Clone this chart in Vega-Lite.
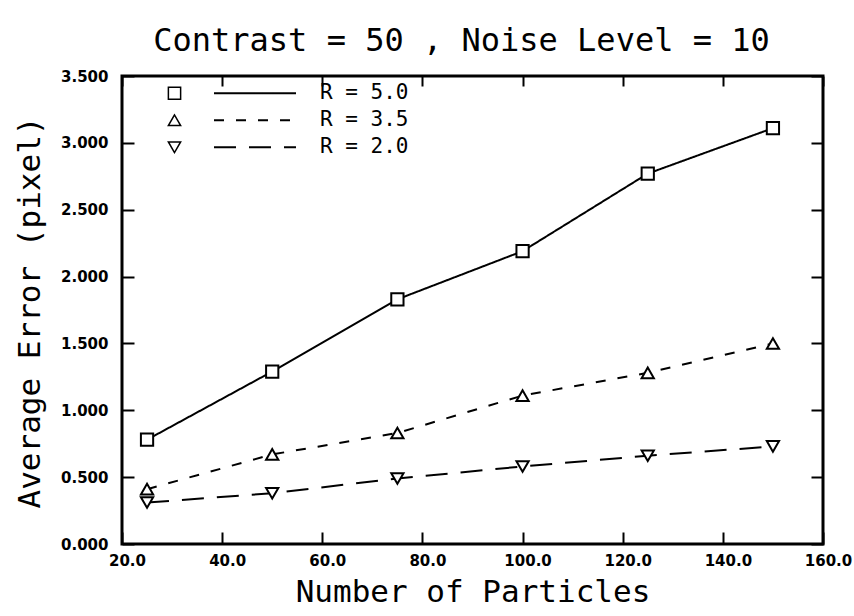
{
  "$schema": "https://vega.github.io/schema/vega-lite/v6.json",
  "width": 701,
  "height": 468,
  "autosize": {"type": "none"},
  "padding": {"left": 122, "top": 76, "right": 31, "bottom": 72},
  "background": "white",
  "title": {
    "text": "Contrast = 50 , Noise Level = 10",
    "font": "DejaVu Sans Mono",
    "fontSize": 32,
    "fontWeight": "normal",
    "color": "black",
    "anchor": "middle",
    "frame": "group",
    "dx": -11,
    "offset": -14,
    "baseline": "alphabetic"
  },
  "config": {
    "view": {"stroke": "black", "strokeWidth": 3},
    "axis": {
      "domain": false,
      "grid": false,
      "tickColor": "black",
      "tickWidth": 2,
      "tickSize": -12,
      "labelColor": "black",
      "labelFont": "DejaVu Sans",
      "labelFontWeight": "bold",
      "labelFontSize": 15,
      "labelFlush": false,
      "labelOverlap": false,
      "titleFont": "DejaVu Sans Mono",
      "titleFontSize": 31,
      "titleFontWeight": "normal",
      "titleColor": "black"
    }
  },
  "data": {
    "values": [
      {"particles": 25, "error": 0.78, "R": "5.0", "label": "R = 5.0"},
      {"particles": 50, "error": 1.29, "R": "5.0", "label": "R = 5.0"},
      {"particles": 75, "error": 1.83, "R": "5.0", "label": "R = 5.0"},
      {"particles": 100, "error": 2.19, "R": "5.0", "label": "R = 5.0"},
      {"particles": 125, "error": 2.77, "R": "5.0", "label": "R = 5.0"},
      {"particles": 150, "error": 3.11, "R": "5.0", "label": "R = 5.0"},
      {"particles": 25, "error": 0.41, "R": "3.5", "label": "R = 3.5"},
      {"particles": 50, "error": 0.67, "R": "3.5", "label": "R = 3.5"},
      {"particles": 75, "error": 0.83, "R": "3.5", "label": "R = 3.5"},
      {"particles": 100, "error": 1.11, "R": "3.5", "label": "R = 3.5"},
      {"particles": 125, "error": 1.28, "R": "3.5", "label": "R = 3.5"},
      {"particles": 150, "error": 1.50, "R": "3.5", "label": "R = 3.5"},
      {"particles": 25, "error": 0.31, "R": "2.0", "label": "R = 2.0"},
      {"particles": 50, "error": 0.38, "R": "2.0", "label": "R = 2.0"},
      {"particles": 75, "error": 0.49, "R": "2.0", "label": "R = 2.0"},
      {"particles": 100, "error": 0.58, "R": "2.0", "label": "R = 2.0"},
      {"particles": 125, "error": 0.66, "R": "2.0", "label": "R = 2.0"},
      {"particles": 150, "error": 0.73, "R": "2.0", "label": "R = 2.0"}
    ]
  },
  "layer": [
    {
      "mark": {"type": "line", "color": "black", "strokeWidth": 2},
      "encoding": {
        "x": {
          "field": "particles", "type": "quantitative",
          "scale": {"domain": [20, 160], "nice": false, "zero": false},
          "axis": {
            "orient": "bottom",
            "values": [20, 40, 60, 80, 100, 120, 140, 160],
            "format": ".1f",
            "labelPadding": 21,
            "labelOffset": 5,
            "title": "Number of Particles",
            "titleX": 350.5,
            "titleY": 48,
            "titleAlign": "center",
            "titleBaseline": "middle"
          }
        },
        "y": {
          "field": "error", "type": "quantitative",
          "scale": {"domain": [0, 3.5], "nice": false},
          "axis": {
            "orient": "left",
            "values": [0, 0.5, 1, 1.5, 2, 2.5, 3, 3.5],
            "format": ".3f",
            "labelPadding": 26,
            "title": "Average Error (pixel)",
            "titleX": -92,
            "titleY": 236,
            "titleAngle": -90,
            "titleAlign": "center",
            "titleBaseline": "middle"
          }
        },
        "strokeDash": {
          "field": "label", "type": "nominal",
          "scale": {"domain": ["R = 5.0", "R = 3.5", "R = 2.0"], "range": [[1, 0], [10, 12], [22, 13]]},
          "legend": {
            "orient": "none",
            "legendX": 91,
            "legendY": 4,
            "title": null,
            "symbolType": "stroke",
            "symbolSize": 6724,
            "symbolStrokeWidth": 2,
            "symbolStrokeColor": "black",
            "labelFont": "DejaVu Sans Mono",
            "labelFontSize": 21,
            "labelColor": "black",
            "labelOffset": 23,
            "clipHeight": 26.5,
            "rowPadding": 0,
            "padding": 0
          }
        }
      }
    },
    {
      "mark": {"type": "point", "filled": true, "fill": "white", "stroke": "black", "strokeWidth": 2, "size": 150, "opacity": 1},
      "encoding": {
        "x": {
          "field": "particles", "type": "quantitative",
          "axis": {"orient": "top", "values": [20, 40, 60, 80, 100, 120, 140, 160], "labels": false, "title": null, "tickSize": -10}
        },
        "y": {
          "field": "error", "type": "quantitative",
          "axis": {"orient": "right", "values": [0, 0.5, 1, 1.5, 2, 2.5, 3, 3.5], "labels": false, "title": null}
        },
        "shape": {
          "field": "R", "type": "nominal",
          "scale": {"domain": ["5.0", "3.5", "2.0"], "range": ["square", "triangle-up", "triangle-down"]},
          "legend": {
            "orient": "none",
            "legendX": 42,
            "legendY": 4,
            "title": null,
            "labelExpr": "''",
            "symbolSize": 150,
            "labelFontSize": 21,
            "clipHeight": 26.5,
            "rowPadding": 0,
            "padding": 0,
            "encode": {
              "symbols": {
                "update": {
                  "fill": {"value": "white"},
                  "stroke": {"value": "black"},
                  "strokeWidth": {"value": 2},
                  "opacity": {"value": 1}
                }
              }
            }
          }
        }
      }
    }
  ],
  "resolve": {"axis": {"x": "independent", "y": "independent"}}
}
